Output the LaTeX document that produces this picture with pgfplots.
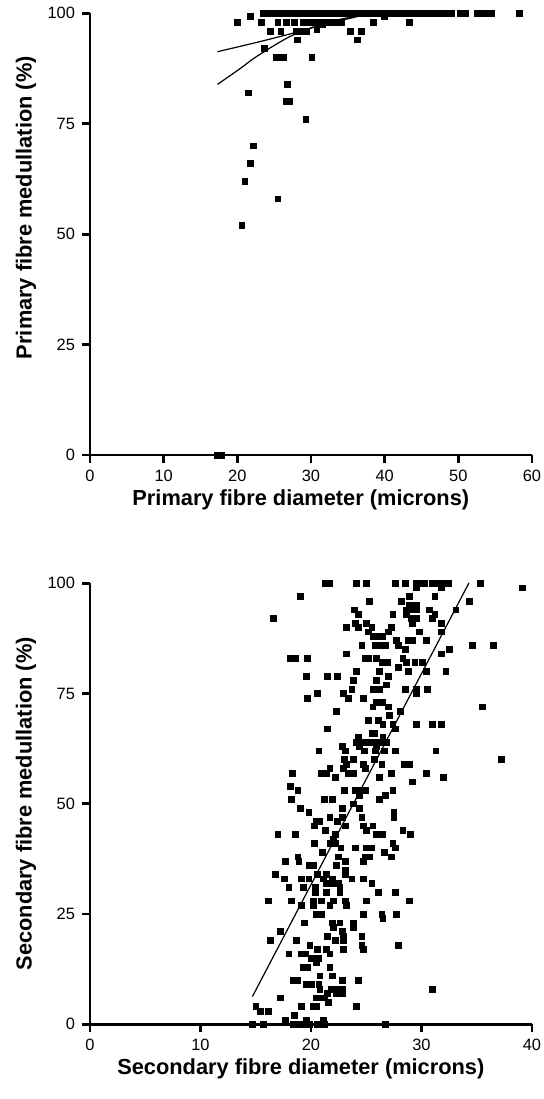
\documentclass[border=0pt]{standalone}
\usepackage{fontspec}
\setmainfont{Liberation Sans}
\usepackage{pgfplots}
\pgfplotsset{compat=1.18}

\pgfplotsset{
 myax/.style={
  scale only axis, width=221pt,
  axis x line=bottom, axis y line=left,
  axis line style={-, line width=1.4pt},
  every tick/.style={black, line width=1.4pt},
  tick align=outside, major tick length=4pt,
  xmin=0, ymin=0, ymax=100,
  ytick={0,25,50,75,100},
  tick label style={font=\fontsize{8.2}{9}\selectfont},
  /pgf/number format/assume math mode=true,
  label style={font=\fontsize{10.9}{13}\selectfont\bfseries},
  clip=false,
  xlabel style={at={(axis description cs:0.477,0)}, anchor=center, yshift=-22.5pt},
 },
 pts/.style={only marks, mark=square*, mark size=1.45pt, black, mark options={line width=0.3pt}},
}

\pgfplotstableread{
x y
23.5 100
24 100
24.5 100
25 100
25.5 100
26 100
26.5 100
27 100
27.5 100
28 100
28.5 100
29 100
29.5 100
30 100
30.5 100
31 100
31.5 100
32 100
32.5 100
33 100
33.5 100
34 100
34.5 100
35 100
35.5 100
36 100
36.5 100
37 100
37.5 100
38 100
38.5 100
39 100
39.5 100
40 100
40.5 100
41 100
41.5 100
42 100
42.5 100
43 100
43.5 100
44 100
44.5 100
45 100
45.5 100
46 100
46.8 100
47.5 100
48.4 100
49.1 100
50.2 100
50.9 100
52.5 100
53.2 100
54.0 100
54.5 100
58.3 100
21.8 99.3
40.0 99.2
20.0 98
23.2 98
25.5 98
26.6 98
27.7 98
28.9 98
29.5 98
30.1 98
30.7 98
31.3 98
31.9 98
32.5 98
33.1 98
33.6 98
34.1 98
38.5 98
43.3 98
30.8 97
31.6 97.4
24.5 96
25.9 96
28.0 96
28.7 96
29.4 96
30.8 96.3
35.3 96
36.8 96
28.1 94
36.3 94
23.7 92
25.3 90
26.2 90
30.1 90
26.8 84
21.5 82
26.6 80
27.1 80
29.3 76
22.2 70
21.8 66
21.0 62
25.5 58
20.6 52
17.2 0
17.9 0
}\toptable

\pgfplotstableread{
x y
21.3 100
21.7 100
24.1 100
25.0 100
27.6 100
28.5 100
29.5 100
29.9 100
30.3 100
31.0 100
31.4 100
31.8 100
32.2 100
32.4 100
35.3 100
29.5 99
31.8 99
39.1 99
19.0 97
28.9 97
31.2 97
25.3 96
28.2 96
34.3 96
28.9 95
29.5 95
23.9 94
28.6 94
29.0 94
29.5 94
30.7 94
33.1 94
24.3 93
27.4 93
28.6 93
31.2 93
16.6 92
29.1 92
29.5 92
31.0 92
24.0 91
25.0 91
29.2 91
31.8 91
23.2 90
24.3 90
25.5 90
27.3 90
25.2 89
27.0 89
29.8 89
31.8 89
25.6 88
26.1 88
26.5 88
27.7 87
28.8 87
29.2 87
30.4 87
24.6 86
25.8 86
26.2 86
26.7 86
27.9 86
34.6 86
36.5 86
28.5 85
32.5 85
23.2 84
31.8 84
18.1 83
18.6 83
19.7 83
24.9 83
25.2 83
25.9 83
28.3 83
26.4 82
26.9 82
28.6 82
29.4 82
30.1 82
27.9 81
24.1 80
26.2 80
28.8 80
30.4 80
32.2 80
19.6 79
21.5 79
22.4 79
27.0 79
23.8 78
25.9 78
26.8 77
23.7 76
25.6 76
26.2 76
28.5 76
29.5 76
30.5 76
20.6 75
22.9 75
29.5 75
19.7 74
23.4 74
24.7 74
25.9 73
26.5 73
25.6 72
27.0 72
35.5 72
22.3 71
28.1 71
27.1 70
25.2 69
26.1 69
26.5 68
27.4 68
29.5 68
31.0 68
31.8 68
21.5 67
27.6 67
25.5 66
25.7 66
24.3 65
26.5 65
24.1 64
24.6 64
25.0 64
25.5 64
25.9 64
26.4 64
26.8 64
22.8 63
24.4 63
25.9 63
20.7 62
23.1 62
24.8 62
25.8 62
26.6 62
27.6 62
31.3 62
23.0 60
23.8 60
25.7 60
37.2 60
23.2 59
24.7 59
26.4 59
28.4 59
28.9 59
21.7 58
22.9 58
24.9 58
18.3 57
20.9 57
21.4 57
23.4 57
23.8 57
27.3 57
30.4 57
22.2 56
26.2 56
32.0 56
29.2 55
18.1 54
18.8 53
23.0 53
24.0 53
24.6 53
24.9 53
27.4 53
24.4 52
26.7 52
18.2 51
21.2 51
21.9 51
26.2 51
23.8 50
19.0 49
22.8 49
24.4 49
19.8 48
27.5 48
21.7 47
22.8 47
24.6 47
27.5 47
20.5 46
20.8 46
22.4 46
20.3 45
23.1 45
24.7 45
25.6 45
21.3 44
25.0 44
28.3 44
17.0 43
18.6 43
22.2 43
25.9 43
26.5 43
29.0 43
22.0 42
20.3 41
21.7 41
22.2 41
27.4 41
22.7 40
24.0 40
25.0 40
25.5 40
27.6 40
21.0 39
26.6 39
18.8 38
22.5 38
24.9 38
25.3 38
27.3 38
17.7 37
18.9 37
23.1 37
24.7 37
19.8 36
20.2 36
22.3 36
23.1 35
16.8 34
20.6 34
21.4 34
23.1 34
17.6 33
19.1 33
19.8 33
21.1 33
21.9 33
23.7 33
24.7 33
21.4 32
22.0 32
22.5 32
25.5 32
18.0 31
19.3 31
20.4 31
22.6 31
20.4 30
21.4 30
22.6 30
26.1 30
27.6 30
16.1 28
18.2 28
20.2 28
20.9 28
22.0 28
23.1 28
25.0 28
28.9 28
19.1 27
20.2 27
21.7 27
23.2 27
20.5 25
20.9 25
24.7 25
26.4 25
27.7 25
26.5 24
19.4 23
21.9 23
22.6 23
23.8 23
22.0 22
23.8 22
17.2 21
22.8 21
21.5 20
22.9 20
24.6 20
16.3 19
18.7 19
22.2 19
22.9 19
19.9 18
24.6 18
27.9 18
20.6 17
21.4 17
22.9 17
24.7 17
18.0 16
19.1 16
19.5 16
21.7 16
20.0 15
20.3 15
20.7 15
20.5 14
19.3 13
19.7 13
21.7 13
20.8 11
21.9 11
18.4 10
18.8 10
22.8 10
24.3 10
19.6 9
20.0 9
20.7 9
20.8 8
21.8 8
22.3 8
22.8 8
31.0 8
21.5 7
22.3 7
22.8 7
17.2 6
20.5 6
20.8 6
21.2 6
21.6 5
15.0 4
19.1 4
20.2 4
20.5 4
24.1 4
15.4 3
16.1 3
18.5 2
17.7 1
19.6 1
21.1 1
14.7 0
15.7 0
18.4 0
18.7 0
19.0 0
19.6 0
19.9 0
20.6 0
20.9 0
21.2 0
26.7 0
}\bottable

\begin{document}
\begin{tikzpicture}
\path[use as bounding box] (0,0) rectangle (272pt,549.5pt);

\begin{axis}[myax,
  at={(45pt,322pt)}, anchor=south west,
  height=220.85pt, xmax=60, xtick={0,10,20,30,40,50,60},
  xlabel={Primary fibre diameter (microns)},
  ylabel={Primary fibre medullation (\%)},
  ylabel style={at={(axis description cs:-0.145,0.56)}, anchor=center},
]
\addplot[pts] table[x=x,y=y] {\toptable};
\addplot[black, line width=0.6pt, smooth] coordinates {(17.3,91.3) (22.6,93.4) (27.1,95.3) (30.8,97.0) (33.9,98.3) (36.9,99.5)};
\addplot[black, line width=0.6pt, smooth] coordinates {(17.3,83.9) (20.4,87.5) (22.6,90.2) (27.1,94.7) (31.7,97.7) (35.3,99.1) (37.3,99.7)};
\end{axis}

\begin{axis}[myax,
  at={(45pt,37.35pt)}, anchor=south west,
  height=220.5pt, xmax=40, xtick={0,10,20,30,40},
  xlabel={Secondary fibre diameter (microns)},
  ylabel={Secondary fibre medullation (\%)},
  ylabel style={at={(axis description cs:-0.145,0.5)}, anchor=center},
]
\addplot[pts] table[x=x,y=y] {\bottable};
\addplot[black, line width=0.6pt] coordinates {(14.7,6.3) (34.3,100.1)};
\end{axis}
\end{tikzpicture}
\end{document}
